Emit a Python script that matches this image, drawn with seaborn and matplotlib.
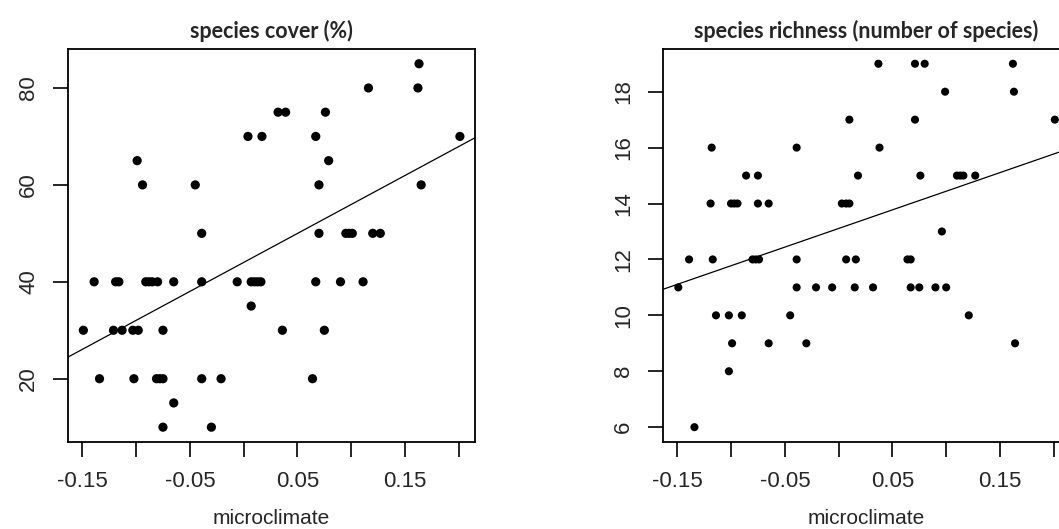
import matplotlib
matplotlib.use("Agg")
import matplotlib.pyplot as plt
import seaborn as sns
import numpy as np
import pandas as pd

# species cover (%) vs microclimate
cover_x = [0.163, 0.116, 0.162, 0.032, 0.039, 0.076, 0.004, 0.017, 0.067, 0.201,
           -0.099, 0.079, -0.094, -0.045, 0.070, 0.165,
           -0.039, 0.070, 0.095, 0.098, 0.101, 0.120, 0.127,
           -0.139, -0.119, -0.116, -0.091, -0.088, -0.085, -0.080, -0.065, -0.039,
           -0.006, 0.007, 0.010, 0.013, 0.016, 0.067, 0.090, 0.111,
           0.007,
           -0.149, -0.121, -0.113, -0.103, -0.098, -0.075, 0.036, 0.075,
           -0.134, -0.102, -0.081, -0.078, -0.075, -0.039, -0.021, 0.064,
           -0.065, -0.075, -0.030]
cover_y = [85, 80, 80, 75, 75, 75, 70, 70, 70, 70,
           65, 65, 60, 60, 60, 60,
           50, 50, 50, 50, 50, 50, 50,
           40, 40, 40, 40, 40, 40, 40, 40, 40,
           40, 40, 40, 40, 40, 40, 40, 40,
           35,
           30, 30, 30, 30, 30, 30, 30, 30,
           20, 20, 20, 20, 20, 20, 20, 20,
           15, 10, 10]

# species richness vs microclimate
rich_x = [0.037, 0.071, 0.080, 0.162,
          0.099, 0.163,
          0.010, 0.071, 0.201,
          -0.118, -0.039, 0.038,
          -0.086, -0.075, 0.018, 0.076, 0.110, 0.113, 0.116, 0.127,
          -0.119, -0.100, -0.097, -0.094, -0.075, -0.065, 0.003, 0.007, 0.010,
          0.096,
          -0.139, -0.117, -0.080, -0.077, -0.074, -0.039, 0.007, 0.016, 0.064, 0.067,
          -0.149, -0.039, -0.021, -0.006, 0.015, 0.032, 0.067, 0.075, 0.090, 0.100,
          -0.114, -0.102, -0.090, -0.045, 0.121,
          -0.099, -0.065, -0.030, 0.164,
          -0.102,
          -0.134]
rich_y = [19, 19, 19, 19,
          18, 18,
          17, 17, 17,
          16, 16, 16,
          15, 15, 15, 15, 15, 15, 15, 15,
          14, 14, 14, 14, 14, 14, 14, 14, 14,
          13,
          12, 12, 12, 12, 12, 12, 12, 12, 12, 12,
          11, 11, 11, 11, 11, 11, 11, 11, 11, 11,
          10, 10, 10, 10, 10,
          9, 9, 9, 9,
          8,
          6]

x_ticks = [-0.15, -0.10, -0.05, 0.0, 0.05, 0.10, 0.15, 0.20]
x_ticklabels = ["-0.15", "", "-0.05", "", "0.05", "", "0.15", ""]
cover_yticks = [20, 40, 60, 80]
rich_yticks = [6, 8, 10, 12, 14, 16, 18]

cover_df = pd.DataFrame({"microclimate": cover_x, "value": cover_y})
rich_df = pd.DataFrame({"microclimate": rich_x, "value": rich_y})

sns.set_style("white")
plt.rcParams["font.family"] = ["Liberation Sans", "DejaVu Sans"]


def r_lims(vals):
    # R style 4% padding around the data range
    lo, hi = min(vals), max(vals)
    pad = 0.04 * (hi - lo)
    return lo - pad, hi + pad


fig = plt.figure(figsize=(10.59, 5.29), dpi=100)
ax1 = fig.add_axes([0.0645, 0.165, 0.384, 0.742])
ax2 = fig.add_axes([0.6263, 0.165, 0.384, 0.742])

panels = [
    (ax1, cover_df, "species cover (%)", cover_yticks, 44),
    (ax2, rich_df, "species richness (number of species)", rich_yticks, 34),
]

for ax, df, title, yticks, msize in panels:
    ax.set_xlim(r_lims(df["microclimate"]))
    ax.set_ylim(r_lims(df["value"]))
    sns.scatterplot(data=df, x="microclimate", y="value", ax=ax,
                    color="black", s=msize, edgecolor="none", linewidth=0)
    sns.regplot(data=df, x="microclimate", y="value", ax=ax, scatter=False,
                ci=None, truncate=False, color="black",
                line_kws={"linewidth": 0.9})
    ax.set_xlim(r_lims(df["microclimate"]))
    ax.set_ylim(r_lims(df["value"]))

    ax.set_xticks(x_ticks)
    ax.set_xticklabels(x_ticklabels, fontsize=16)
    ax.set_yticks(yticks)
    ax.set_yticklabels([str(v) for v in yticks], fontsize=16,
                       rotation=90, va="center")
    ax.tick_params(axis="both", direction="out", length=11, width=1.2,
                   color="black", bottom=True, left=True)
    ax.tick_params(axis="x", pad=10)
    ax.tick_params(axis="y", pad=10)
    for sp in ax.spines.values():
        sp.set_visible(True)
        sp.set_color("black")
        sp.set_linewidth(1.3)

    ax.set_xlabel("microclimate", fontsize=15, labelpad=12)
    ax.set_ylabel("")
    ax.set_title(title, fontsize=15.5, fontweight="bold", pad=8,
                 family=["Lato", "DejaVu Sans"])

fig.savefig("out.png", dpi=100)
